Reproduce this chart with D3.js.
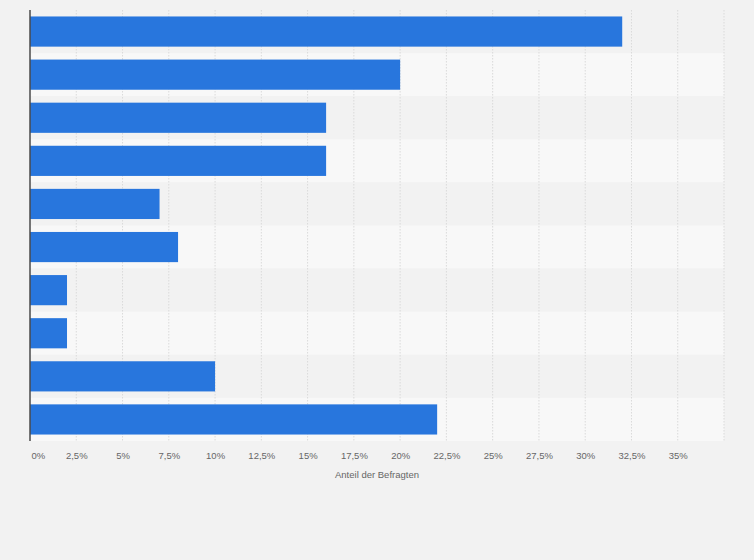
<!DOCTYPE html>
<html lang="de">
<head>
<meta charset="utf-8">
<script src="https://d3js.org/d3.v7.min.js"></script>
<style>
  body { margin: 0; background: #f2f2f2; }
  svg { display: block; font-family: "Liberation Sans", Arial, sans-serif; }
</style>
</head>
<body>
<script type="text/javascript">

// rows of the chart (no labels shown in the picture)
var categories = ["r1", "r2", "r3", "r4", "r5", "r6", "r7", "r8", "r9", "r10"];
var values = [32, 20, 16, 16, 7, 8, 2, 2, 10, 22];
var ticks = [0, 2.5, 5, 7.5, 10, 12.5, 15, 17.5, 20, 22.5, 25, 27.5, 30, 32.5, 35];
var gridValues = ticks.concat([37.5]);
var axisTitle = "Anteil der Befragten";

var width = 754, height = 560;
var margin = {top: 10, right: 30, bottom: 119, left: 30};

var svg = d3.select("body")
  .append("svg")
  .attr("width", width)
  .attr("height", height);

svg.append("rect")
  .attr("width", width)
  .attr("height", height)
  .attr("fill", "#f2f2f2");

var x = d3.scaleLinear()
  .domain([0, 37.5])
  .range([margin.left, width - margin.right]);

var y = d3.scaleBand()
  .domain(categories)
  .range([margin.top, height - margin.bottom])
  .paddingInner(0.3)
  .paddingOuter(0.15);

var rowH = y.step();

// alternating row stripes
svg.selectAll("rect.stripe")
  .data(categories)
  .enter()
  .append("rect")
  .attr("class", "stripe")
  .attr("x", x(0))
  .attr("y", (d) => y(d) - y.step() * y.paddingInner() / 2)
  .attr("width", x(37.5) - x(0))
  .attr("height", rowH)
  .attr("fill", (d, i) => i % 2 ? "#f8f8f8" : "#f2f2f2");

// dashed vertical grid
svg.selectAll("line.grid")
  .data(gridValues.slice(1))
  .enter()
  .append("line")
  .attr("class", "grid")
  .attr("x1", (d) => x(d))
  .attr("x2", (d) => x(d))
  .attr("y1", margin.top)
  .attr("y2", height - margin.bottom)
  .attr("stroke", "#dadada")
  .attr("stroke-width", 1)
  .attr("stroke-dasharray", "1.5,1.5");

// bars
svg.selectAll("rect.bar")
  .data(values)
  .enter()
  .append("rect")
  .attr("class", "bar")
  .attr("x", x(0))
  .attr("y", (d, i) => y(categories[i]))
  .attr("width", (d) => x(d) - x(0))
  .attr("height", y.bandwidth())
  .attr("fill", "#2876dd");

// left axis line
svg.append("line")
  .attr("x1", x(0))
  .attr("x2", x(0))
  .attr("y1", margin.top)
  .attr("y2", height - margin.bottom)
  .attr("stroke", "#4a4a4a")
  .attr("stroke-width", 1.5);

// x axis
var fmt = (d) => String(d).replace(".", ",") + "%";
var xAxis = d3.axisBottom(x)
  .tickValues(ticks)
  .tickFormat(fmt)
  .tickSize(0)
  .tickPadding(0);

var gx = svg.append("g")
  .attr("transform", "translate(0," + (height - margin.bottom + 11) + ")")
  .call(xAxis);

gx.select(".domain").remove();
gx.selectAll("text")
  .attr("fill", "#666")
  .style("font-size", "9.5px")
  .attr("dy", "0.71em");
gx.selectAll("text")
  .filter((d) => d === 0)
  .attr("text-anchor", "start")
  .attr("dx", 1);

svg.append("text")
  .attr("x", 377)
  .attr("y", 478)
  .attr("text-anchor", "middle")
  .attr("fill", "#666")
  .style("font-size", "9.5px")
  .text(axisTitle);

</script>
</body>
</html>
